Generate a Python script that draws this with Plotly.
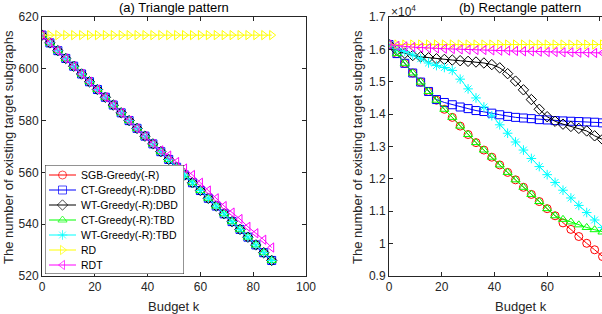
import plotly.graph_objects as go

# Budget k values (shared by both panels)
k = [0, 3, 6, 9, 12, 15, 18, 21, 24, 27, 30, 33, 36, 39, 42, 45,
     48, 51, 54, 57, 60, 63, 66, 69, 72, 75, 78, 81, 84, 87]

names = ["SGB-Greedy(-R)", "CT-Greedy(-R):DBD", "WT-Greedy(-R):DBD",
         "CT-Greedy(-R):TBD", "WT-Greedy(-R):TBD", "RD", "RDT"]
colors = ["#FF0000", "#0000FF", "#000000", "#00FF00", "#00FFFF", "#FFFF00", "#FF00FF"]
symbols = ["circle-open", "square-open", "diamond-open", "triangle-up-open",
           "asterisk-open", "triangle-right-open", "triangle-left-open"]

# (a) Triangle pattern
tri_greedy = [613, 610, 607, 604, 601, 598, 595, 592, 589, 586, 583, 580, 577, 574, 571, 568,
              565, 562, 559, 556, 553, 550, 547, 544, 541, 538, 535, 532, 529, 526]
tri_sgb = tri_greedy
tri_ct_dbd = tri_greedy
tri_wt_dbd = tri_greedy
tri_ct_tbd = tri_greedy
tri_wt_tbd = tri_greedy
tri_rd = [613] * 30
tri_rdt = [613, 610, 607, 604, 601, 598, 595, 592, 589, 586, 583, 580, 577, 574, 571, 568.5,
           566.5, 564, 561.5, 559, 556, 553, 550, 547, 544.5, 542, 539, 536.5, 534, 531]

# (b) Rectangle pattern
rect_sgb = [16150, 15870, 15570, 15270, 14990, 14700, 14430, 14150, 13900, 13630, 13370, 13120,
            12890, 12670, 12430, 12200, 11970, 11740, 11520, 11300, 11080, 10860, 10640, 10440,
            10220, 10010, 9810, 9600, 9400, 9200]
rect_ct_dbd = [16150, 15870, 15570, 15270, 14990, 14700, 14450, 14360, 14290, 14220, 14170, 14110,
               14080, 14030, 13980, 13930, 13900, 13880, 13860, 13830, 13820, 13800, 13790, 13780,
               13770, 13760, 13750, 13730, 13720, 13710]
rect_wt_dbd = [16150, 15970, 15880, 15810, 15770, 15740, 15710, 15690, 15670, 15650, 15630, 15610,
               15580, 15530, 15430, 15250, 15020, 14750, 14450, 14150, 13920, 13780, 13690, 13620,
               13560, 13480, 13330, 13220, 13150, 13100]
rect_ct_tbd = [16150, 15870, 15570, 15270, 14990, 14700, 14430, 14150, 13900, 13630, 13370, 13120,
               12890, 12670, 12430, 12200, 11970, 11740, 11520, 11300, 11080, 10860, 10750, 10670,
               10580, 10500, 10430, 10360, 10300, 10250]
rect_wt_tbd = [16150, 16020, 15940, 15830, 15710, 15580, 15500, 15440, 15350, 15080, 14780, 14500,
               14220, 13950, 13670, 13410, 13140, 12890, 12630, 12380, 12130, 11890, 11650, 11410,
               11180, 10960, 10730, 10500, 10280, 10060]
rect_rd = [16150] * 30
rect_rdt = [16150, 16110, 16090, 16070, 16050, 16040, 16030, 16020, 16010, 16000, 15990, 15980,
            15980, 15970, 15960, 15960, 15950, 15940, 15940, 15930, 15920, 15920, 15910, 15910,
            15900, 15900, 15890, 15890, 15880, 15880]

tri_series = [tri_sgb, tri_ct_dbd, tri_wt_dbd, tri_ct_tbd, tri_wt_tbd, tri_rd, tri_rdt]
rect_series = [rect_sgb, rect_ct_dbd, rect_wt_dbd, rect_ct_tbd, rect_wt_tbd, rect_rd, rect_rdt]

x_ticks = [0, 20, 40, 60, 80, 100]
tri_y_ticks = [520, 540, 560, 580, 600, 620]
rect_y_ticks = [9000, 10000, 11000, 12000, 13000, 14000, 15000, 16000, 17000]
rect_y_ticklabels = ["0.9", "1", "1.1", "1.2", "1.3", "1.4", "1.5", "1.6", "1.7"]

FONT = "Liberation Sans, Arial, Helvetica, sans-serif"
AX = "#262626"
W, H = 602, 314


def px(v):
    return v / W


def py(v):
    return 1 - v / H


fig = go.Figure()
for i in range(7):
    fig.add_trace(go.Scatter(
        x=k, y=tri_series[i], name=names[i], mode="lines+markers",
        line=dict(color=colors[i], width=1),
        marker=dict(symbol=symbols[i], size=8, color=colors[i], line=dict(width=1, color=colors[i])),
        xaxis="x", yaxis="y", showlegend=False))
for i in range(7):
    fig.add_trace(go.Scatter(
        x=k, y=rect_series[i], name=names[i], mode="lines+markers",
        line=dict(color=colors[i], width=1),
        marker=dict(symbol=symbols[i], size=8, color=colors[i], line=dict(width=1, color=colors[i])),
        xaxis="x2", yaxis="y2", showlegend=False))

# Legend box drawn on its own small axis (units = pixels inside the box)
LEG_W, LEG_H = 139, 109
leg_row_y = [10 + 15 * i for i in range(7)]
for i in range(7):
    fig.add_trace(go.Scatter(
        x=[4, 17.5, 31], y=[leg_row_y[i]] * 3, mode="lines+markers",
        line=dict(color=colors[i], width=1),
        marker=dict(symbol=symbols[i], size=[0, 8, 0], color=colors[i],
                    line=dict(width=1, color=colors[i])),
        xaxis="x3", yaxis="y3", showlegend=False, hoverinfo="skip"))

y_dom = [py(276), py(17)]
common = dict(showline=True, linecolor=AX, linewidth=1, ticks="inside", ticklen=4,
              tickcolor=AX, showgrid=False, zeroline=False, automargin=False,
              tickfont=dict(family=FONT, size=12, color=AX))
hidden = dict(visible=False, showgrid=False, zeroline=False, automargin=False, fixedrange=True)

annotations = [
    dict(text="(a) Triangle pattern", x=px(174), y=py(8), xref="paper", yref="paper",
         xanchor="center", yanchor="middle",
         showarrow=False, font=dict(size=13, color="#000000", family=FONT)),
    dict(text="(b) Rectangle pattern", x=px(520), y=py(8), xref="paper", yref="paper",
         xanchor="center", yanchor="middle",
         showarrow=False, font=dict(size=13, color="#000000", family=FONT)),
    dict(text="×10<sup>4</sup>", x=px(389), y=py(11), xref="paper", yref="paper",
         xanchor="left", yanchor="middle", showarrow=False,
         font=dict(size=12, color=AX, family=FONT)),
    dict(text="Budget k", x=px(174), y=py(306), xref="paper", yref="paper",
         xanchor="center", yanchor="middle",
         showarrow=False, font=dict(size=13, color=AX, family=FONT)),
    dict(text="Budget k", x=px(521), y=py(306), xref="paper", yref="paper",
         xanchor="center", yanchor="middle",
         showarrow=False, font=dict(size=13, color=AX, family=FONT)),
    dict(text="The number of existing target subgraphs", x=px(8), y=py(147),
         xref="paper", yref="paper", textangle=-90, showarrow=False,
         xanchor="center", yanchor="middle",
         font=dict(size=13, color=AX, family=FONT)),
    dict(text="The number of existing target subgraphs", x=px(357), y=py(147),
         xref="paper", yref="paper", textangle=-90, showarrow=False,
         xanchor="center", yanchor="middle",
         font=dict(size=13, color=AX, family=FONT)),
]
for i in range(7):
    annotations.append(dict(text=names[i], x=34, y=leg_row_y[i], xref="x3", yref="y3",
                            xanchor="left", yanchor="middle", showarrow=False,
                            font=dict(size=10.5, color="#000000", family=FONT)))

fig.update_layout(
    width=W, height=H, autosize=False,
    margin=dict(l=0, r=0, t=0, b=0, autoexpand=False),
    paper_bgcolor="white", plot_bgcolor="white",
    font=dict(family=FONT, color=AX),
    showlegend=False,
    xaxis=dict(domain=[px(42), px(306)], range=[0, 100], tickvals=x_ticks, mirror="ticks",
               anchor="y", **common),
    yaxis=dict(domain=y_dom, range=[520, 620], tickvals=tri_y_ticks, mirror="ticks",
               anchor="x", **common),
    xaxis2=dict(domain=[px(389), 1.0], range=[0, 80.8], tickvals=x_ticks, mirror="ticks",
                anchor="y2", **common),
    yaxis2=dict(domain=y_dom, range=[9000, 17000], tickvals=rect_y_ticks,
                ticktext=rect_y_ticklabels, mirror=False, anchor="x2", **common),
    xaxis3=dict(domain=[px(45), px(45 + LEG_W)], range=[0, LEG_W], anchor="y3", **hidden),
    yaxis3=dict(domain=[py(165 + LEG_H), py(165)], range=[LEG_H, 0], anchor="x3", **hidden),
    shapes=[dict(type="rect", xref="x3", yref="y3", x0=0, x1=LEG_W, y0=0, y1=LEG_H,
                 layer="below", fillcolor="white", line=dict(color=AX, width=1))],
    annotations=annotations,
)

fig.write_html("out.html", config={"displayModeBar": False},
               post_script="document.body.style.margin='0';"
                           "document.body.style.overflow='hidden';")
